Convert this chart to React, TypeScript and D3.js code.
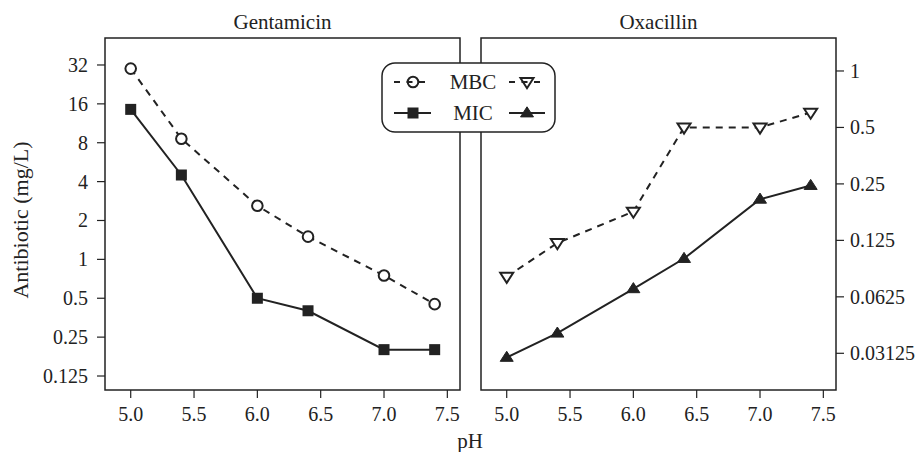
import React from 'react';
import * as d3 from 'd3';

// pH values (same for all series)
const phValues = [5.0, 5.4, 6.0, 6.4, 7.0, 7.4];

// Gentamicin (mg/L)
const gentaMBC = [30, 8.6, 2.6, 1.5, 0.75, 0.45];
const gentaMIC = [14.5, 4.5, 0.5, 0.4, 0.2, 0.2];

// Oxacillin (mg/L)
const oxaMBC = [0.08, 0.121, 0.178, 0.5, 0.5, 0.6];
const oxaMIC = [0.0297, 0.04, 0.069, 0.1, 0.207, 0.245];

const xTicks = [5.0, 5.5, 6.0, 6.5, 7.0, 7.5];
const gentaTicks = [0.125, 0.25, 0.5, 1, 2, 4, 8, 16, 32];
const oxaTicks = [0.03125, 0.0625, 0.125, 0.25, 0.5, 1];

const FONT = '"Liberation Serif", "Times New Roman", serif';
const INK = '#222';
const TOP = 38;
const BOTTOM = 390;
const TICK_FS = 20;

const fmtX = d3.format('.1f');

function Marker({ kind, x, y, fill = true }: { kind: string; x: number; y: number; fill?: boolean }) {
  if (kind === 'circle') {
    return <circle cx={x} cy={y} r={5.3} fill={fill ? '#fff' : 'none'} stroke={INK} strokeWidth={2} />;
  }
  if (kind === 'square') {
    return <rect x={x - 5.5} y={y - 5.5} width={11} height={11} fill={INK} />;
  }
  const s = 6.5;
  if (kind === 'down') {
    const pts = [[x - s, y - s * 0.6], [x + s, y - s * 0.6], [x, y + s * 0.95]];
    return <polygon points={pts.map(p => p.join(',')).join(' ')} fill={fill ? '#fff' : 'none'} stroke={INK} strokeWidth={2} />;
  }
  const pts = [[x - s, y + s * 0.6], [x + s, y + s * 0.6], [x, y - s * 0.95]];
  return <polygon points={pts.map(p => p.join(',')).join(' ')} fill={INK} stroke={INK} strokeWidth={1} />;
}

function Panel({ left, right, title, mbc, mic, mbcMarker, micMarker, yDomain, yTicks, side }: any) {
  const x = d3.scaleLinear().domain([4.797, 7.6]).range([left, right]);
  const y = d3.scaleLog().base(2).domain(yDomain).range([BOTTOM, TOP]);
  const line = d3.line<number>().x((_, i) => x(phValues[i])).y(d => y(d));
  const fmtY = (v: number) => String(v);

  return (
    <g>
      <text x={(left + right) / 2} y={29} textAnchor="middle" fontSize={21} fontFamily={FONT} fill={INK}>{title}</text>
      <rect x={left} y={TOP} width={right - left} height={BOTTOM - TOP} fill="none" stroke={INK} strokeWidth={1.5} />
      {xTicks.map(t => (
        <g key={t}>
          <line x1={x(t)} x2={x(t)} y1={BOTTOM} y2={BOTTOM + 8} stroke={INK} strokeWidth={1.2} />
          <text x={x(t)} y={421} textAnchor="middle" fontSize={TICK_FS} fontFamily={FONT} fill={INK}>{fmtX(t)}</text>
        </g>
      ))}
      {yTicks.map((t: number) => side === 'left' ? (
        <g key={t}>
          <line x1={left - 8} x2={left} y1={y(t)} y2={y(t)} stroke={INK} strokeWidth={1.2} />
          <text x={left - 17} y={y(t)} dy="0.35em" textAnchor="end" fontSize={TICK_FS} fontFamily={FONT} fill={INK}>{fmtY(t)}</text>
        </g>
      ) : (
        <g key={t}>
          <line x1={right} x2={right + 8} y1={y(t)} y2={y(t)} stroke={INK} strokeWidth={1.2} />
          <text x={right + 14} y={y(t)} dy="0.35em" textAnchor="start" fontSize={TICK_FS} fontFamily={FONT} fill={INK}>{fmtY(t)}</text>
        </g>
      ))}
      <path d={line(mbc) || ''} fill="none" stroke={INK} strokeWidth={2} strokeDasharray="7,6" />
      <path d={line(mic) || ''} fill="none" stroke={INK} strokeWidth={2} />
      {mbc.map((v: number, i: number) => <Marker key={'b' + i} kind={mbcMarker} x={x(phValues[i])} y={y(v)} />)}
      {mic.map((v: number, i: number) => <Marker key={'c' + i} kind={micMarker} x={x(phValues[i])} y={y(v)} />)}
    </g>
  );
}

function Legend() {
  const rows = [
    { label: 'MBC', y: 82, dash: '6,5', l: 'circle', r: 'down' },
    { label: 'MIC', y: 113, dash: undefined, l: 'square', r: 'up' },
  ];
  return (
    <g>
      <rect x={382} y={63} width={173} height={69} rx={13} fill="#fff" stroke={INK} strokeWidth={1.5} />
      {rows.map(r => (
        <g key={r.label}>
          <line x1={394} x2={431} y1={r.y} y2={r.y} stroke={INK} strokeWidth={2} strokeDasharray={r.dash ? '6,6.5' : undefined} />
          <Marker kind={r.l} x={413} y={r.y} fill={false} />
          <text x={473} y={r.y} dy="0.35em" textAnchor="middle" fontSize={21} fontFamily={FONT} fill={INK}>{r.label}</text>
          <line x1={509} x2={545} y1={r.y} y2={r.y} stroke={INK} strokeWidth={2} strokeDasharray={r.dash ? '6,6.5' : undefined} />
          <Marker kind={r.r} x={527} y={r.y} fill={false} />
        </g>
      ))}
    </g>
  );
}

export default function App() {
  return (
    <svg width={919} height={452} style={{ position: 'absolute', left: 0, top: 0, background: '#fff' }}>
      <rect width={919} height={452} fill="#fff" />
      <Panel left={105} right={460} title="Gentamicin" mbc={gentaMBC} mic={gentaMIC}
        mbcMarker="circle" micMarker="square" yDomain={[Math.pow(2, -3.36), Math.pow(2, 5.694)]}
        yTicks={gentaTicks} side="left" />
      <Panel left={481} right={836} title="Oxacillin" mbc={oxaMBC} mic={oxaMIC}
        mbcMarker="down" micMarker="up" yDomain={[Math.pow(2, -5.65), Math.pow(2, 0.584)]}
        yTicks={oxaTicks} side="right" />
      <Legend />
      <text x={470} y={448} textAnchor="middle" fontSize={21} fontFamily={FONT} fill={INK}>pH</text>
      <text transform="translate(28,220) rotate(-90)" textAnchor="middle" fontSize={22} fontFamily={FONT} fill={INK}>Antibiotic (mg/L)</text>
    </svg>
  );
}
